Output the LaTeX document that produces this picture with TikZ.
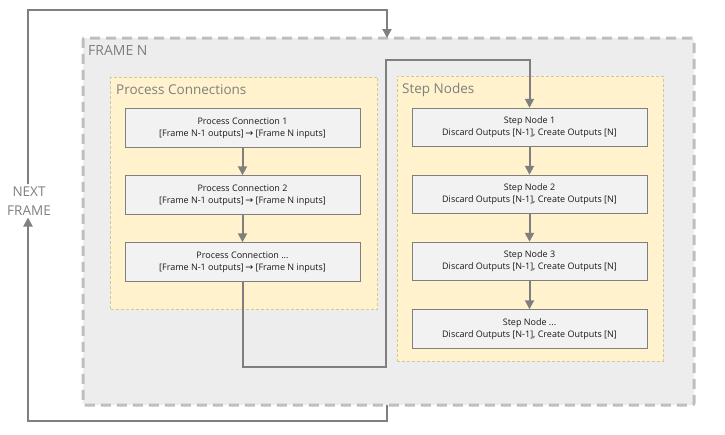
\documentclass[tikz,border=0pt]{standalone}
\usepackage{fontspec}
\setmainfont{Open Sans}
\newfontfamily\arrowfont{DejaVu Sans}
\usetikzlibrary{arrows.meta}
\definecolor{framefill}{HTML}{EDEDED}
\definecolor{frameline}{HTML}{BFBFBF}
\definecolor{yfill}{HTML}{FFF2CC}
\definecolor{yline}{HTML}{D6C595}
\definecolor{boxfill}{HTML}{F2F2F2}
\definecolor{boxline}{HTML}{7F7F7F}
\definecolor{arrcol}{HTML}{7F7F7F}
\definecolor{titlecol}{HTML}{7F7F7F}
\newcommand{\rarr}{\,{\arrowfont\fontsize{9.5}{12}\selectfont →}}
\tikzset{
  framebox/.style={draw=frameline, fill=framefill, line width=3pt, dash pattern=on 10pt off 6pt, rounded corners=2pt, inner sep=0pt},
  groupbox/.style={draw=yline, fill=yfill, line width=0.6pt, dash pattern=on 3pt off 2pt, inner sep=0pt},
  stepbox/.style={draw=boxline, fill=boxfill, line width=1pt, minimum width=235pt, minimum height=38.5pt, inner sep=0pt, align=center, font=\fontsize{9}{12}\selectfont, text=black!90},
  titletext/.style={text=titlecol, anchor=west, inner sep=0pt},
  arr/.style={draw=arrcol, line width=2pt, -{Triangle[width=9pt,length=9pt]}},
}
\begin{document}
\begin{tikzpicture}[x=1pt,y=-1pt]
\useasboundingbox (0,0) rectangle (725,434);
% frame N
\node[framebox, minimum width=611pt, minimum height=367pt] (frame) at (388.5,221.5) {};
\node[titletext, font=\fontsize{14}{16}\selectfont] (frametitle) at (88,50) {FRAME N};
% groups
\node[groupbox, minimum width=267pt, minimum height=232pt] (pc) at (244,193) {};
\node[titletext, font=\fontsize{13.5}{15}\selectfont] (pctitle) at (116,89.5) {Process Connections};
\node[groupbox, minimum width=266pt, minimum height=285pt] (sn) at (530,218.5) {};
\node[titletext, font=\fontsize{13.5}{15}\selectfont] (sntitle) at (402,89.5) {Step Nodes};
% process boxes
\node[stepbox] (p1) at (242.5,128) {Process Connection 1\\{}[Frame N-1 outputs]\rarr\ [Frame N inputs]};
\node[stepbox] (p2) at (242.5,195) {Process Connection 2\\{}[Frame N-1 outputs]\rarr\ [Frame N inputs]};
\node[stepbox] (p3) at (242.5,262) {Process Connection ...\\{}[Frame N-1 outputs]\rarr\ [Frame N inputs]};
% step boxes
\node[stepbox] (s1) at (529.5,127.5) {Step Node 1\\Discard Outputs [N-1], Create Outputs [N]};
\node[stepbox] (s2) at (529.5,194.5) {Step Node 2\\Discard Outputs [N-1], Create Outputs [N]};
\node[stepbox] (s3) at (529.5,261.5) {Step Node 3\\Discard Outputs [N-1], Create Outputs [N]};
\node[stepbox] (s4) at (529.5,329) {Step Node ...\\Discard Outputs [N-1], Create Outputs [N]};
% next frame label
\node[text=titlecol, align=center, font=\fontsize{13.5}{19}\selectfont, inner sep=2pt] (next) at (29,201) {NEXT\\FRAME};
% arrows
\draw[arr] (p1) -- (p2);
\draw[arr] (p2) -- (p3);
\draw[arr] (s1) -- (s2);
\draw[arr] (s2) -- (s3);
\draw[arr] (s3) -- (s4);
\coordinate (m1) at (386,367);
\coordinate (m2) at (386,60);
\draw[arr] (p3.south) |- (m1) |- (m2) -| (s1.north);
\coordinate (t1) at (28,10);
\coordinate (topin) at (387,38);
\draw[arr] (next.north -| t1) -- (t1) -| (topin);
\coordinate (botout) at (387,405);
\coordinate (b1) at (28,421);
\draw[arr] (botout) |- (b1) -- (next.south -| b1);
\end{tikzpicture}
\end{document}
